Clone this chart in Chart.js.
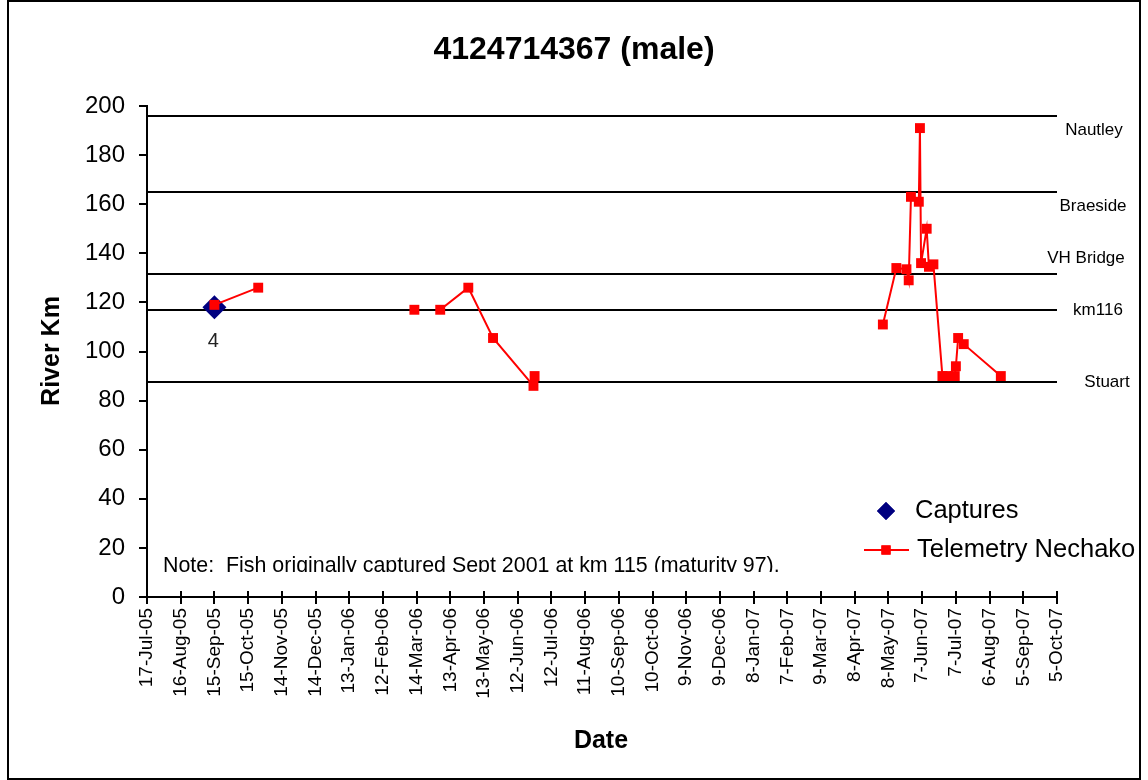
<!DOCTYPE html>
<html>
<head>
<meta charset="utf-8">
<title>4124714367 (male)</title>
<script src="https://cdn.jsdelivr.net/npm/chart.js@4.4.1/dist/chart.umd.min.js"></script>
<style>
  html, body { margin: 0; padding: 0; background: #ffffff; }
  canvas { display: block; }
</style>
</head>
<body>
<canvas id="chart" width="1148" height="780"></canvas>
<script>
// ---- data ----
const chartTitle = '4124714367 (male)';
const xAxisTitle = 'Date';
const yAxisTitle = 'River Km';
const noteText = 'Note:  Fish originally captured Sept 2001 at km 115 (maturity 97).';

const xTickLabels = ['17-Jul-05','16-Aug-05','15-Sep-05','15-Oct-05','14-Nov-05','14-Dec-05',
  '13-Jan-06','12-Feb-06','14-Mar-06','13-Apr-06','13-May-06','12-Jun-06','12-Jul-06',
  '11-Aug-06','10-Sep-06','10-Oct-06','9-Nov-06','9-Dec-06','8-Jan-07','7-Feb-07',
  '9-Mar-07','8-Apr-07','8-May-07','7-Jun-07','7-Jul-07','6-Aug-07','5-Sep-07','5-Oct-07'];
const yTickValues = [0, 20, 40, 60, 80, 100, 120, 140, 160, 180, 200];

// river landmarks (km)
const siteNames = ['Nautley', 'Braeside', 'VH Bridge', 'km116', 'Stuart'];
const siteKm = [196, 165, 131.5, 117, 87.5];

// capture record
const captureDates = ['2005-09-15'];
const captureKm = [118];
const captureLabels = ['4'];

// telemetry fixes, Nechako receivers
const telemetryDates = ['2005-09-15','2005-10-24','2006-03-12','2006-04-04','2006-04-29',
  '2006-05-21','2006-06-26','2006-06-27','2007-05-03','2007-05-15','2007-05-24','2007-05-26',
  '2007-05-28','2007-06-04','2007-06-05','2007-06-06','2007-06-11','2007-06-13','2007-06-17',
  '2007-06-25','2007-06-30','2007-07-06','2007-07-07','2007-07-09','2007-07-14','2007-08-16'];
const telemetryKm = [119, 126, 117, 117, 126, 105.5, 86, 90, 111, 134, 133.5, 129,
  163, 161, 191, 136, 150, 134.5, 135.5, 90, 90, 90, 94, 105.5, 103, 90];
// fixes that are not joined to the previous one
const trackStarts = ['2006-03-12', '2006-04-04', '2007-05-03'];

// ---- helpers ----
const DAY_MS = 86400000;
const MONTHS = {Jan:0, Feb:1, Mar:2, Apr:3, May:4, Jun:5, Jul:6, Aug:7, Sep:8, Oct:9, Nov:10, Dec:11};
function dayFromTickLabel(s) {
  const [d, m, y] = s.split('-');
  return Date.UTC(2000 + Number(y), MONTHS[m], Number(d)) / DAY_MS;
}
function dayFromIso(s) {
  const [y, m, d] = s.split('-').map(Number);
  return Date.UTC(y, m - 1, d) / DAY_MS;
}
const xTickDays = xTickLabels.map(dayFromTickLabel);
const breakIndices = new Set(trackStarts.map(d => telemetryDates.indexOf(d)));

const FONT = '"Liberation Sans", Arial, Helvetica, sans-serif';
const RED = '#ff0000';
const NAVY = '#000080';

// ---- drawing plugins ----
const framePlugin = {
  id: 'frame',
  beforeDraw(chart) {
    const ctx = chart.ctx;
    ctx.save();
    ctx.fillStyle = '#ffffff';
    ctx.fillRect(0, 0, chart.width, chart.height);
    ctx.strokeStyle = '#000000';
    ctx.lineWidth = 2;
    ctx.strokeRect(8, 1, 1132, 778);
    ctx.restore();
  }
};

const siteLabelPlacement = [[1094, 14], [1093, 14], [1086, -16], [1098, 1], [1107, 0]];

const siteLinesPlugin = {
  id: 'siteLines',
  beforeDatasetsDraw(chart) {
    const {ctx, chartArea, scales} = chart;
    ctx.save();
    ctx.strokeStyle = '#000000';
    ctx.lineWidth = 2;
    siteKm.forEach(km => {
      const y = Math.round(scales.y.getPixelForValue(km));
      ctx.beginPath();
      ctx.moveTo(chartArea.left, y);
      ctx.lineTo(chartArea.right, y);
      ctx.stroke();
    });
    ctx.restore();
  },
  afterDraw(chart) {
    const {ctx, scales} = chart;
    ctx.save();
    ctx.fillStyle = '#000000';
    ctx.font = '17px ' + FONT;
    ctx.textAlign = 'center';
    ctx.textBaseline = 'middle';
    siteNames.forEach((name, i) => {
      const [cx, dy] = siteLabelPlacement[i];
      ctx.fillText(name, cx, scales.y.getPixelForValue(siteKm[i]) + dy);
    });
    ctx.restore();
  }
};

const textPlugin = {
  id: 'texts',
  afterDraw(chart) {
    const {ctx, chartArea, scales} = chart;
    ctx.save();
    ctx.fillStyle = '#000000';

    // title
    ctx.font = 'bold 32px ' + FONT;
    ctx.textAlign = 'center';
    ctx.textBaseline = 'middle';
    ctx.fillText(chartTitle, 574, 50);

    // axis titles
    ctx.font = 'bold 25px ' + FONT;
    ctx.fillText(xAxisTitle, 601, 741);
    ctx.save();
    ctx.translate(52, 351);
    ctx.rotate(-Math.PI / 2);
    ctx.fillText(yAxisTitle, 0, 0);
    ctx.restore();

    // inner half of the date tick marks
    ctx.strokeStyle = '#000000';
    ctx.lineWidth = 2;
    scales.x.ticks.forEach(t => {
      const x = Math.round(scales.x.getPixelForValue(t.value));
      ctx.beginPath();
      ctx.moveTo(x, chartArea.bottom);
      ctx.lineTo(x, chartArea.bottom - 6);
      ctx.stroke();
    });

    // note box (text is cut off by its box)
    ctx.save();
    ctx.beginPath();
    ctx.rect(150, 540, 700, 32);
    ctx.clip();
    ctx.font = '21.4px ' + FONT;
    ctx.textAlign = 'left';
    ctx.textBaseline = 'alphabetic';
    ctx.fillText(noteText, 163, 572);
    ctx.restore();

    // capture labels
    const capMeta = chart.getDatasetMeta(0);
    ctx.font = '20px ' + FONT;
    ctx.fillStyle = '#222222';
    ctx.textAlign = 'center';
    ctx.textBaseline = 'middle';
    capMeta.data.forEach((pt, i) => {
      ctx.fillText(captureLabels[i], pt.x - 1, pt.y + 34);
    });
    ctx.restore();
  }
};

const legendPlugin = {
  id: 'sideLegend',
  afterDraw(chart) {
    const ctx = chart.ctx;
    const rows = [511, 550];
    ctx.save();
    ctx.font = '25.5px ' + FONT;
    ctx.textAlign = 'left';
    ctx.textBaseline = 'middle';
    chart.data.datasets.forEach((ds, i) => {
      const y = rows[i];
      if (ds.showLine !== false) {
        ctx.strokeStyle = ds.borderColor;
        ctx.lineWidth = 2;
        ctx.beginPath();
        ctx.moveTo(864, y);
        ctx.lineTo(909, y);
        ctx.stroke();
      }
      ctx.fillStyle = ds.backgroundColor;
      Chart.helpers.drawPoint(ctx, {
        pointStyle: ds.pointStyle,
        radius: ds.showLine === false ? 9 : 6.5,
        borderWidth: 0,
        rotation: 0
      }, 886, y);
      ctx.fill();
      ctx.fillStyle = '#000000';
      ctx.fillText(ds.label, ds.showLine === false ? 915 : 917, y);
    });
    ctx.restore();
  }
};

// ---- chart ----
new Chart(document.getElementById('chart'), {
  type: 'line',
  data: {
    datasets: [
      {
        label: 'Captures',
        data: captureDates.map((d, i) => ({x: dayFromIso(d), y: captureKm[i]})),
        showLine: false,
        pointStyle: 'rectRot',
        pointRadius: 12,
        pointBorderWidth: 0,
        backgroundColor: NAVY,
        borderColor: NAVY,
        order: 1
      },
      {
        label: 'Telemetry Nechako',
        data: telemetryDates.map((d, i) => ({x: dayFromIso(d), y: telemetryKm[i]})),
        borderColor: RED,
        backgroundColor: RED,
        borderWidth: 2,
        tension: 0,
        pointStyle: 'rect',
        pointRadius: 7,
        pointBorderWidth: 0,
        segment: {
          borderColor: c => breakIndices.has(c.p1DataIndex) ? 'rgba(0,0,0,0)' : RED
        },
        order: 0
      }
    ]
  },
  options: {
    responsive: false,
    animation: false,
    events: [],
    layout: { padding: { top: 106, right: 91, left: 0, bottom: 0 } },
    plugins: {
      legend: { display: false },
      title: { display: false },
      tooltip: { enabled: false }
    },
    scales: {
      x: {
        type: 'linear',
        min: xTickDays[0],
        max: xTickDays[xTickDays.length - 1],
        afterBuildTicks: s => { s.ticks = xTickDays.map(v => ({value: v})); },
        afterFit: s => { s.height = 183; },
        ticks: {
          autoSkip: false,
          minRotation: 90,
          maxRotation: 90,
          padding: 4,
          color: '#000000',
          font: { family: FONT, size: 19 },
          callback: (v, i) => xTickLabels[i]
        },
        grid: { drawOnChartArea: false, drawTicks: true, tickLength: 7, color: '#000000', lineWidth: 2 },
        border: { display: true, color: '#000000', width: 2 }
      },
      y: {
        type: 'linear',
        min: yTickValues[0],
        max: yTickValues[yTickValues.length - 1],
        afterBuildTicks: s => { s.ticks = yTickValues.map(v => ({value: v})); },
        afterFit: s => { s.width = 147; },
        ticks: {
          padding: 14,
          color: '#000000',
          font: { family: FONT, size: 24 }
        },
        grid: { drawOnChartArea: false, drawTicks: true, tickLength: 8, color: '#000000', lineWidth: 2 },
        border: { display: true, color: '#000000', width: 2 }
      }
    }
  },
  plugins: [framePlugin, siteLinesPlugin, textPlugin, legendPlugin]
});
</script>
</body>
</html>
